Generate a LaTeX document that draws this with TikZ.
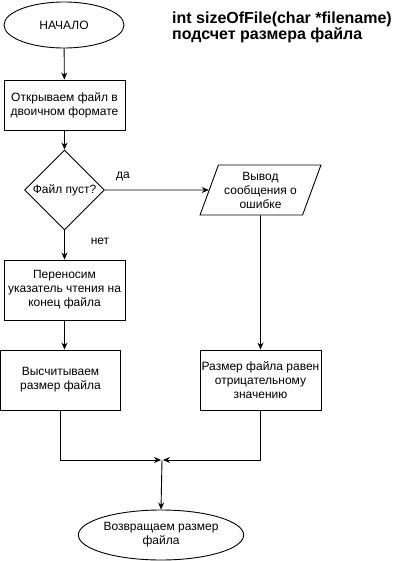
\documentclass[tikz,border=0pt]{standalone}
\usepackage{fontspec}
\setmainfont{Liberation Sans}
\usetikzlibrary{shapes.geometric, arrows.meta}

\tikzset{
  base/.style={draw, line width=0.9pt, align=center, inner sep=1pt,
    font=\fontsize{12}{14}\selectfont},
  term/.style={base, ellipse},
  proc/.style={base, rectangle},
  cond/.style={base, diamond, shape aspect=1},
  io/.style={base, trapezium, trapezium left angle=67, trapezium right angle=113,
    trapezium stretches=true},
  flow/.style={line width=0.9pt, -{Stealth[length=7pt,width=6pt]}},
  lbl/.style={font=\fontsize{12}{14}\selectfont},
}

\begin{document}
\begin{tikzpicture}[x=1pt, y=-1pt]
  \useasboundingbox (0,0) rectangle (411,561);

  % header: function signature and its purpose
  \node[anchor=north west, align=left, inner sep=0pt,
        font=\bfseries\fontsize{16}{16}\selectfont] (title) at (172,11.6)
    {int sizeOfFile(char *filename)\\подсчет размера файла};

  % blocks
  \node[term, minimum width=120pt, minimum height=46pt] (start) at (64,25) {НАЧАЛО};
  \node[proc, minimum width=121pt, minimum height=50pt] (open) at (64.5,105)
    {Открываем файл в\\двоичном формате};
  \node[cond, minimum width=80pt, minimum height=80pt] (check) at (64.5,190) {Файл пуст?};
  \node[io, minimum width=121pt, minimum height=50pt] (err) at (260.5,190)
    {Вывод\\сообщения о\\ошибке};
  \node[proc, minimum width=121pt, minimum height=60pt] (move) at (64.5,290)
    {Переносим\\указатель чтения на\\конец файла};
  \node[proc, minimum width=120pt, minimum height=60pt] (calc) at (60.5,380)
    {Высчитываем\\размер файла};
  \node[proc, minimum width=121pt, minimum height=60pt] (neg) at (260.5,380)
    {Размер файла равен\\отрицательному\\значению};
  \node[term, minimum width=138pt, minimum height=50pt] (finish) at (161,535)
    {Возвращаем размер\\файла};

  \coordinate (merge) at (162,460);

  % connectors
  \draw[flow] (start) -- (open);
  \draw[flow] (open) -- (check);
  \draw[flow] (check.east) -- (err.west);
  \draw[flow] (check.south) -- (move.north);
  \draw[flow] (move.south) -- (move.south |- calc.north);
  \draw[flow] (err.south) -- (neg.north);
  \draw[flow] (calc.south) |- ([xshift=-1pt]merge);
  \draw[flow] (neg.south) |- ([xshift=1pt]merge);
  \draw[flow] (merge) -- (finish.north);

  % branch labels
  \node[lbl] (yes) at (123,176) {да};
  \node[lbl] (no) at (100,241) {нет};
\end{tikzpicture}
\end{document}
